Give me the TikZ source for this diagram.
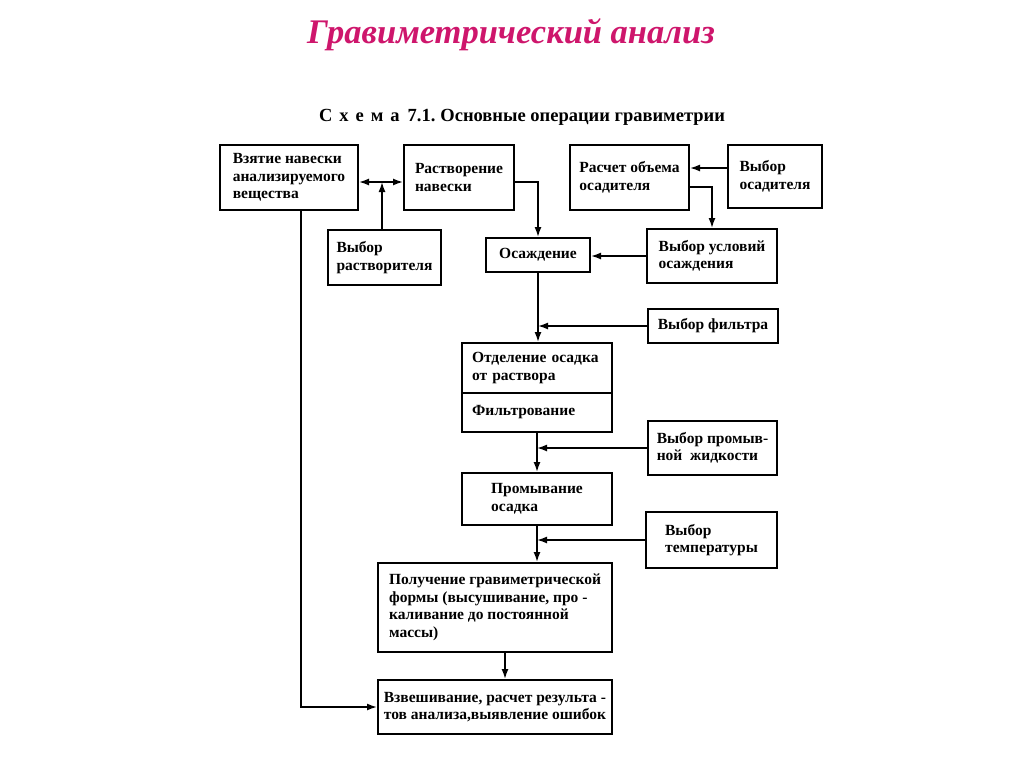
\documentclass[tikz,border=0pt]{standalone}
\usepackage{fontspec}
\setmainfont{Liberation Serif}
\usetikzlibrary{arrows.meta,positioning}
\definecolor{titlered}{RGB}{206,22,108}

\begin{document}
\begin{tikzpicture}[x=1pt,y=-1pt, >={Latex[length=10pt,width=7pt]},
    box/.style={draw, line width=2pt, align=left, inner sep=4pt,
      font=\fontsize{15.5}{17.5}\selectfont\bfseries},
    link/.style={line width=1.6pt}]
  \useasboundingbox (0,0) rectangle (1024,768);

  \node [font=\fontsize{34.5}{38}\selectfont\bfseries\itshape, text=titlered] (title) at (511,35) {Гравиметрический анализ};
  \node [font=\fontsize{18.5}{22}\selectfont\bfseries] (caption) at (522,117)
    {С\hspace{7pt}х\hspace{7pt}е\hspace{7pt}м\hspace{7pt}а\hspace{8pt}7.1.\hspace{5pt}Основные операции гравиметрии};

  \node [box, minimum width=138pt, minimum height=65pt] (vzyat) at (289,177.5) {Взятие навески\\анализируемого\\вещества};
  \node [box, minimum width=110pt, minimum height=65pt] (rastv) at (459,177.5) {Растворение\\навески};
  \node [box, minimum width=119pt, minimum height=65pt] (rasch) at (629.5,177.5) {Расчет объема\\осадителя};
  \node [box, minimum width=94pt, minimum height=63pt] (vos) at (775,176.5) {Выбор\\осадителя};
  \node [box, minimum width=113pt, minimum height=55pt] (vrast) at (384.5,257.5) {Выбор\\растворителя};
  \node [box, minimum width=104pt, minimum height=34pt] (osazh) at (538,255) {Осаждение};
  \node [box, minimum width=130pt, minimum height=54pt] (vusl) at (712,256) {Выбор условий\\осаждения};
  \node [box, minimum width=130pt, minimum height=34pt] (vfiltr) at (713,326) {Выбор фильтра};
  \node [box, inner xsep=10pt, text width=130pt, minimum height=50pt] (otdel) at (537,368) {Отделение осадка\\от раствора};
  \node [box, inner xsep=10pt, text width=130pt, minimum height=39pt] (filtr) at (537,412.5) {Фильтрование};
  \node [box, minimum width=129pt, minimum height=54pt] (vprom) at (712.5,448) {Выбор промыв-\\ной~~жидкости};
  \node [box, minimum width=150pt, minimum height=52pt] (prom) at (537,499) {Промывание\\осадка};
  \node [box, minimum width=131pt, minimum height=56pt] (vtemp) at (711.5,540) {Выбор\\температуры};
  \node [box, minimum width=234pt, minimum height=89pt] (poluch) at (495,607.5) {Получение гравиметрической\\формы (высушивание, про -\\ каливание до постоянной\\ массы)};
  \node [box, minimum width=234pt, minimum height=54pt] (vzv) at (495,707) {Взвешивание, расчет результа -\\тов анализа,выявление ошибок};

  \coordinate (jn) at (382,182);
  \draw [link, <->] (vzyat.east |- jn) -- (rastv.west |- jn);
  \draw [link, ->] (vrast.north -| jn) -- (jn);
  \draw [link, ->] (rastv.east |- jn) -| (osazh.north);
  \draw [link, ->] ([yshift=8.5pt]vos.west) -- ([yshift=8.5pt]vos.west -| rasch.east);
  \draw [link, ->] ([yshift=-9.5pt]rasch.east) -| (vusl.north);
  \draw [link, ->] (vusl.west) -- (vusl.west -| osazh.east);
  \draw [link, ->] (osazh.south) -- (osazh.south |- otdel.north);
  \draw [link, ->] (vfiltr.west) -- (vfiltr.west -| osazh.south);
  \draw [link, ->] (filtr.south) -- (filtr.south |- prom.north);
  \draw [link, ->] (vprom.west) -- (vprom.west -| filtr.south);
  \draw [link, ->] (prom.south) -- (prom.south |- poluch.north);
  \draw [link, ->] (vtemp.west) -- (vtemp.west -| prom.south);
  \draw [link, ->] ([xshift=10pt]poluch.south) -- ([xshift=10pt]poluch.south |- vzv.north);
  \draw [link, ->] ([xshift=12pt]vzyat.south) |- (vzv.west);
\end{tikzpicture}
\end{document}
